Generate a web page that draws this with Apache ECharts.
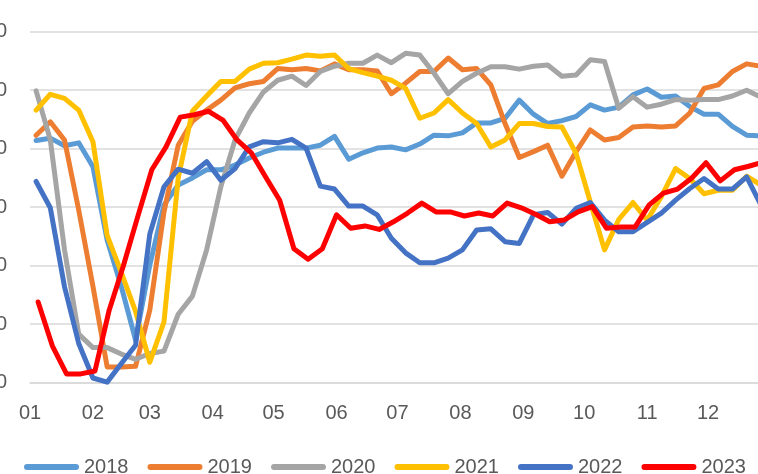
<!DOCTYPE html>
<html><head><meta charset="utf-8">
<script src="https://cdn.jsdelivr.net/npm/echarts@6/dist/echarts.min.js"></script>
<style>html,body{margin:0;padding:0;background:#fff}#c{width:758px;height:474px}</style>
</head><body><div id="c"></div>
<script>
// ---- data ----
const seriesNames = ['2018', '2019', '2020', '2021', '2022', '2023'];
const seriesColors = ['#5B9BD5', '#ED7D31', '#A5A5A5', '#FFC000', '#4472C4', '#FF0000'];
const monthLabels = ['01', '02', '03', '04', '05', '06', '07', '08', '09', '10', '11', '12'];
const monthStartDays = [0, 31, 59, 90, 120, 151, 181, 212, 243, 273, 304, 334];
const yTickValues = [0, 10, 20, 30, 40, 50, 60];
const axisDayCount = 366;
// day-of-year of the first weekly observation, per year
const firstObsDay = [3, 3, 3, 3, 3, 4];

const v2018 = [41.4,41.8,40.5,41.0,36.9,24.4,16.4,7.3,20.1,30.4,
  33.8,35.0,36.4,36.4,37.2,38.4,39.4,40.1,40.1,40.1,
  40.6,42.1,38.2,39.3,40.1,40.3,39.8,40.8,42.3,42.2,
  42.7,44.4,44.4,45.2,48.3,45.9,44.3,44.8,45.5,47.5,
  46.6,47.1,49.2,50.2,48.8,49.0,47.2,45.9,45.9,43.8,
  42.3,42.2];
const v2019 = [42.3,44.6,41.5,29.5,16.5,2.7,2.7,2.8,12.4,29.2,
  40.6,44.7,46.6,48.3,50.4,51.1,51.5,53.7,53.5,53.7,
  53.3,54.5,53.5,53.5,53.3,49.4,51.2,53.2,53.2,55.5,
  53.5,53.7,50.9,44.3,38.5,39.5,40.6,35.3,39.5,43.2,
  41.5,41.9,43.7,43.9,43.7,43.9,46.1,50.3,50.9,53.2,
  54.5,54.1];
const v2020 = [49.9,41.5,22.7,8.3,6.0,6.0,4.9,4.0,5.0,5.4,
  11.7,14.8,22.7,33.5,41.5,46.1,49.7,51.7,52.4,50.8,
  53.2,54.1,54.6,54.6,56.0,54.7,56.3,56.0,52.9,49.4,
  51.5,52.9,54.0,54.0,53.6,54.1,54.3,52.4,52.6,55.2,
  54.9,46.9,48.9,47.1,47.6,48.4,48.3,48.4,48.4,49.0,
  50.0,48.8];
const v2021 = [46.6,49.3,48.6,46.6,41.2,25.2,18.8,12.2,3.5,10.4,
  35.0,46.4,49.0,51.5,51.5,53.6,54.6,54.7,55.3,56.0,
  55.8,56.0,53.7,53.0,52.4,51.7,50.3,45.2,46.1,48.4,
  46.1,44.3,40.3,41.5,44.3,44.3,43.8,43.7,39.2,30.9,
  22.7,27.9,30.8,27.8,31.8,36.6,34.9,32.3,32.9,32.9,
  35.3,33.8];
const v2022 = [34.4,29.9,16.4,6.7,0.8,0.1,3.3,6.4,25.4,33.5,
  36.5,35.8,37.8,34.6,36.6,40.3,41.2,41.0,41.6,40.1,
  33.6,33.1,30.2,30.2,28.7,24.7,22.2,20.5,20.5,21.3,
  22.7,26.1,26.3,24.1,23.8,28.7,29.1,27.1,29.8,30.8,
  27.8,25.8,25.8,27.4,29.0,31.2,33.2,34.9,33.1,33.1,
  35.2,30.4];
const v2023 = [13.8,6.3,1.5,1.5,2.0,12.4,20.0,28.3,36.4,40.3,
  45.4,45.8,46.4,44.9,41.5,39.3,35.2,31.2,22.9,21.1,
  22.9,28.7,26.4,26.8,26.2,27.5,29.0,30.7,29.2,29.2,
  28.5,29.0,28.5,30.7,29.9,28.8,27.5,27.8,29.2,30.1,
  26.4,26.6,26.6,30.4,32.4,33.1,35.0,37.6,34.5,36.4,
  37.0,37.7];
const allValues = [v2018, v2019, v2020, v2021, v2022, v2023];

// ---- build ----
const dayCategories = [];
for (let d = 0; d < axisDayCount; d++) dayCategories.push(String(d));
const labelByDay = {};
monthStartDays.forEach((d, i) => { labelByDay[d] = monthLabels[i]; });

const series = seriesNames.map((name, i) => ({
  name: name,
  type: 'line',
  symbol: 'none',
  smooth: false,
  data: allValues[i].map((v, k) => [firstObsDay[i] + 7 * k, v]),
  lineStyle: { width: 5, color: seriesColors[i], cap: 'round', join: 'round' },
  itemStyle: { color: seriesColors[i] },
  emphasis: { disabled: true },
  animation: false
}));

const chart = echarts.init(document.getElementById('c'), null, { renderer: 'canvas' });
chart.setOption({
  backgroundColor: '#ffffff',
  animation: false,
  color: seriesColors,
  grid: { left: 30, right: -13, top: 31.7, bottom: 91.3, containLabel: false, outerBoundsMode: 'none' },
  xAxis: {
    type: 'category',
    data: dayCategories,
    boundaryGap: false,
    axisLine: { show: true, lineStyle: { color: '#D9D9D9', width: 1.5 } },
    axisTick: { show: false },
    splitLine: { show: false },
    axisLabel: {
      interval: (idx) => labelByDay[idx] !== undefined,
      formatter: (val, idx) => labelByDay[idx] || '',
      color: '#595959',
      fontSize: 20,
      fontFamily: 'Liberation Sans',
      margin: 21
    }
  },
  yAxis: {
    type: 'value',
    min: yTickValues[0],
    max: yTickValues[yTickValues.length - 1],
    interval: 10,
    axisLine: { show: false },
    axisTick: { show: false },
    splitLine: { show: true, lineStyle: { color: '#D9D9D9', width: 1.5 } },
    axisLabel: {
      color: '#595959',
      fontSize: 20,
      fontFamily: 'Liberation Sans',
      margin: 23,
      align: 'right'
    }
  },
  legend: {
    data: seriesNames,
    left: 19,
    top: 452,
    icon: 'path://M3 0H52A3 3 0 0 1 52 6H3A3 3 0 0 1 3 0Z',
    itemWidth: 55,
    itemHeight: 6,
    itemGap: 19,
    itemStyle: { borderWidth: 0 },
    textStyle: { color: '#595959', fontSize: 20, fontFamily: 'Liberation Sans' }
  },
  series: series
});
</script>
</body></html>
